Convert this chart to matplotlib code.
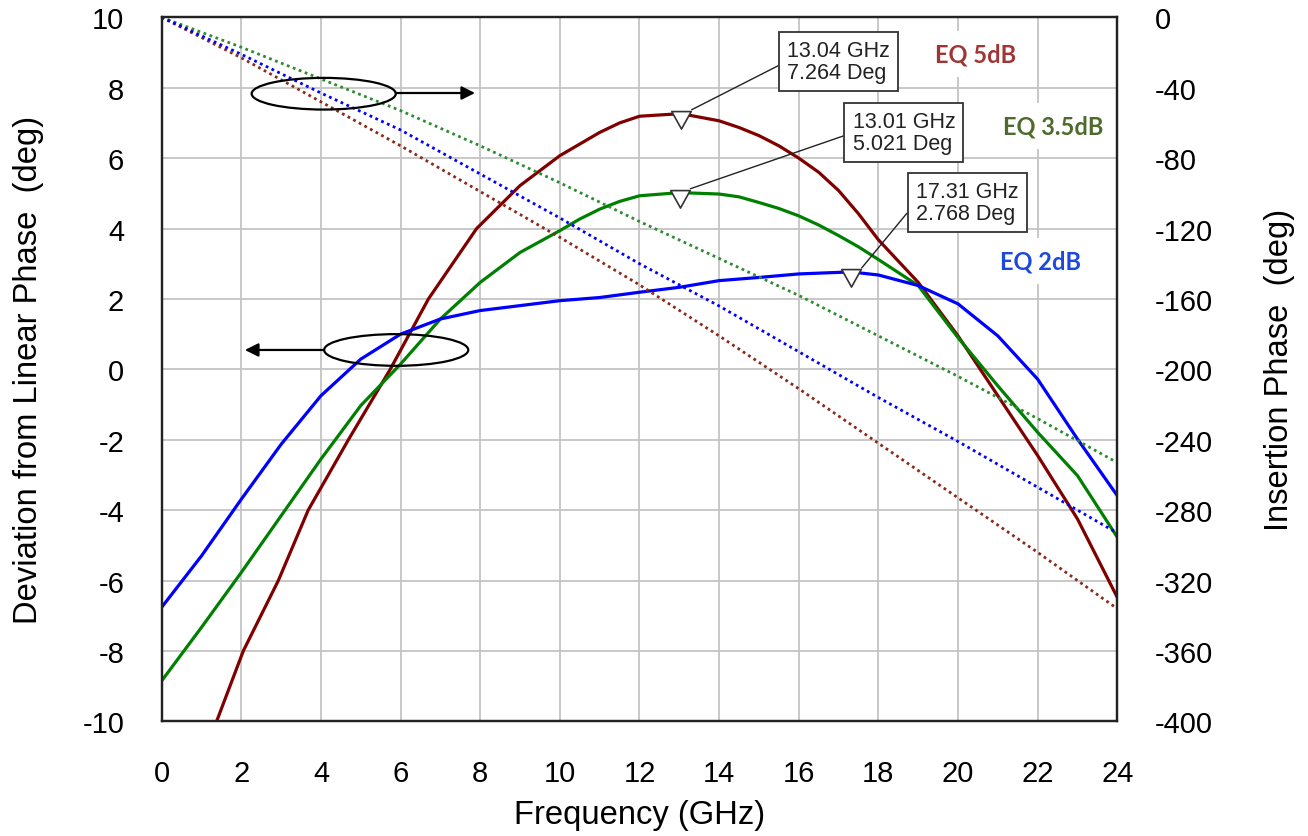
import matplotlib
matplotlib.use('Agg')
import matplotlib.pyplot as plt
from matplotlib.patches import Ellipse
from matplotlib.markers import MarkerStyle
from matplotlib.path import Path

# deviation from linear phase (deg)
f_5db = [1.38, 2.05, 2.93, 3.68, 4.69, 5.74, 6.7, 7.91, 9.0, 10, 11, 11.5, 12,
         13.04, 14, 14.5, 15, 15.5, 16, 16.5, 17, 17.5, 18, 19, 20, 21, 22, 23, 24]
dev_5db = [-10, -8, -6, -4, -2, 0, 2, 4, 5.22, 6.07, 6.73, 7.0, 7.19,
           7.264, 7.06, 6.87, 6.64, 6.35, 6.0, 5.6, 5.08, 4.42, 3.68, 2.47, 0.95,
           -0.75, -2.45, -4.25, -6.48]

f_35db = [0, 1, 2, 3, 4, 5, 6, 7, 8, 9, 10, 10.5, 11, 11.5, 12, 13.01, 14, 14.5,
          15, 15.5, 16, 16.5, 17, 17.5, 18, 19, 20, 21, 22, 23, 24]
dev_35db = [-8.85, -7.33, -5.77, -4.16, -2.55, -1.03, 0.15, 1.43, 2.47, 3.32,
            3.94, 4.27, 4.55, 4.77, 4.93, 5.021, 4.98, 4.9, 4.74, 4.57, 4.36,
            4.1, 3.8, 3.48, 3.12, 2.38, 0.9, -0.47, -1.79, -3.02, -4.77]

f_2db = [0, 1, 2, 3, 4, 5, 6, 7, 8, 9, 10, 11, 12, 13, 14, 15, 16, 17.31, 18,
         19, 20, 21, 22, 23, 24]
dev_2db = [-6.76, -5.3, -3.69, -2.13, -0.75, 0.29, 1.0, 1.43, 1.67, 1.81, 1.95,
           2.04, 2.19, 2.33, 2.52, 2.61, 2.71, 2.768, 2.68, 2.38, 1.86, 0.95,
           -0.28, -1.98, -3.59]

# insertion phase (deg), right axis
f_phase = [0, 2, 4, 6, 8, 10, 12, 14, 16, 18, 20, 22, 24]
ph_5db = [0, -23, -48, -73, -99, -125, -152, -181, -211, -242, -273, -304, -336]
ph_35db = [0, -17, -35, -53, -73, -94, -116, -137, -158, -181, -204, -228, -253]
ph_2db = [0, -21, -43, -64, -89, -114, -140, -164, -190, -216, -241, -267, -293]

# marker readouts
peak_f = [13.04, 13.01, 17.31]
peak_dev = [7.264, 5.021, 2.768]

c_5 = '#800000'
c_35 = '#008000'
c_2 = '#0000ff'

plt.rcParams['font.family'] = ['Liberation Sans', 'DejaVu Sans']
plt.rcParams['axes.unicode_minus'] = False

fig = plt.figure(figsize=(13.08, 8.37), dpi=100)
ax = fig.add_axes([0.1236, 0.1370, 0.7306, 0.8411])
ax2 = ax.twinx()

ax.plot(f_5db, dev_5db, color=c_5, lw=2.3)
ax.plot(f_35db, dev_35db, color=c_35, lw=2.3)
ax.plot(f_2db, dev_2db, color=c_2, lw=2.3)

dots = (0, (1.0, 1.3))
ax2.plot(f_phase, ph_5db, color='#8b2a1a', lw=2.0, ls=dots)
ax2.plot(f_phase, ph_35db, color='#2e8b2e', lw=2.0, ls=dots)
ax2.plot(f_phase, ph_2db, color=c_2, lw=2.0, ls=dots)

ax.set_xlim(0, 24)
ax.set_ylim(-10, 10)
ax2.set_ylim(-400, 0)
ax.set_xticks(range(0, 25, 2))
ax.set_yticks(range(-10, 11, 2))
ax2.set_yticks(range(-400, 1, 40))
ax.grid(color='#c4c4c4', lw=1.3)
ax.set_axisbelow(True)

ax.tick_params(axis='both', length=0, labelsize=21, pad=27)
ax2.tick_params(axis='y', length=0, labelsize=21, pad=27)
for a in (ax, ax2):
    for s in a.spines.values():
        s.set_linewidth(1.6)
        s.set_color('#222222')

ax.set_xlabel('Frequency (GHz)', fontsize=23.6, va='center')
ax.set_ylabel('Deviation from Linear Phase  (deg)', fontsize=23.6, va='center')
ax2.set_ylabel('Insertion Phase  (deg)', fontsize=23.6, va='center')
ax.xaxis.set_label_coords(0.5, -0.132)
ax.yaxis.set_label_coords(-0.139, 0.5)
ax2.yaxis.set_label_coords(1.17, 0.5)

# open triangle markers, top edge sitting on the curve
tri = MarkerStyle(Path([(-1, 0.3), (1, 0.3), (0, -1.5), (-1, 0.3)],
                       [Path.MOVETO, Path.LINETO, Path.LINETO, Path.CLOSEPOLY]))
ax2.plot(peak_f, peak_dev, ls='none', marker=tri, ms=21, mfc='white',
         mec='#333333', mew=1.2, transform=ax.transData)

box_pos = [(15.7, 8.75), (17.35, 6.72), (18.94, 4.74)]
for fx, dv, (tx, ty) in zip(peak_f, peak_dev, box_pos):
    ax2.annotate(f'{fx:.2f} GHz\n{dv:.3f} Deg', xy=(fx + 0.27, dv + 0.11),
                 xycoords=ax.transData, xytext=(tx, ty), textcoords=ax.transData,
                 ha='left', va='center', fontsize=15.5, color='#222222',
                 linespacing=1.05,
                 bbox=dict(boxstyle='square,pad=0.38', fc='white', ec='#333333', lw=1.3),
                 arrowprops=dict(arrowstyle='-', color='#222222', lw=1.0,
                                 relpos=(0, 0.5), shrinkA=0, shrinkB=0),
                 zorder=6)

# legend-ish labels
lab_kw = dict(ha='center', va='center', fontsize=17, fontweight='bold',
              family='Lato', transform=ax.transData, zorder=7, clip_on=False,
              bbox=dict(boxstyle='square,pad=0.5', fc='white', ec='none'))
ax2.text(20.43, 8.96, 'EQ 5dB', color='#a03535', **lab_kw)
ax2.text(22.39, 6.91, 'EQ 3.5dB', color='#4e6b2c', **lab_kw)
ax2.text(22.07, 3.08, 'EQ 2dB', color='#1c48e0', **lab_kw)

# axis pointers
ax2.add_patch(Ellipse((4.07, 7.83), 3.62, 0.9, fill=False, ec='black', lw=1.6,
                      transform=ax.transData, zorder=5))
ax2.annotate('', xy=(7.87, 7.85), xytext=(5.88, 7.85), xycoords=ax.transData,
             textcoords=ax.transData,
             arrowprops=dict(arrowstyle='-|>,head_length=0.8,head_width=0.4',
                             color='black', lw=1.6, shrinkA=0, shrinkB=0))
ax2.add_patch(Ellipse((5.89, 0.55), 3.62, 0.9, fill=False, ec='black', lw=1.6,
                      transform=ax.transData, zorder=5))
ax2.annotate('', xy=(2.09, 0.55), xytext=(4.08, 0.55), xycoords=ax.transData,
             textcoords=ax.transData,
             arrowprops=dict(arrowstyle='-|>,head_length=0.8,head_width=0.4',
                             color='black', lw=1.6, shrinkA=0, shrinkB=0))

fig.savefig('out.png', dpi=100, facecolor='white')
